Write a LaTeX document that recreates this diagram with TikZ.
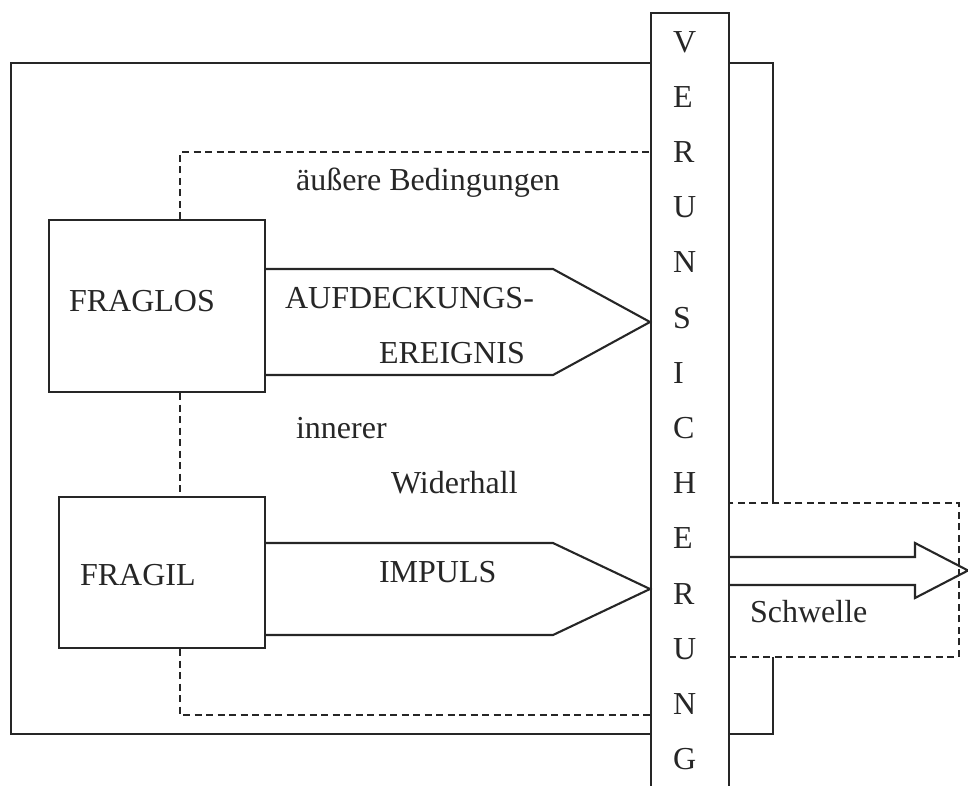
\documentclass[tikz,border=0pt]{standalone}
\usepackage{fontspec}
\setmainfont{Liberation Serif}
\begin{document}
\begin{tikzpicture}[x=1pt,y=-1pt,
  line join=miter, line width=2.1pt, color=black!85,
  panel/.style={draw, line width=2.1pt, inner sep=0pt, anchor=north west},
  hint/.style={draw, line width=1.7pt, dash pattern=on 7pt off 4.5pt},
  caption/.style={anchor=base west, inner sep=0pt, font=\fontsize{32}{38}\selectfont},
]
\useasboundingbox (0,0) rectangle (968,785);

% outer frame
\node[panel, minimum width=762pt, minimum height=671pt] (frame) at (10,62) {};

% threshold zone (covers the frame edge it crosses)
\node[panel, hint, fill=white, minimum width=230pt, minimum height=154pt] (zone) at (728,502) {};

% the two states
\node[panel, minimum width=216pt, minimum height=172pt] (fraglos) at (48,219) {};
\node[panel, minimum width=206.5pt, minimum height=151pt] (fragil) at (57.5,496) {};

% dashed links
\coordinate (spine) at (180,0);
\draw[hint] (fraglos.north -| spine) -- (spine |- 0,152) -- (650,152);
\draw[hint] (fraglos.south -| spine) -- (fragil.north -| spine);
\draw[hint] (fragil.south -| spine) -- (spine |- 0,715) -- (650,715);

% vertical bar
\node[panel, fill=white, minimum width=78pt, minimum height=790pt] (bar) at (650,11.7) {};
\foreach \ch [count=\i from 0] in {V,E,R,U,N,S,I,C,H,E,R,U,N,G}
  \node[caption] (bar-\i) at (672, 52+55.2*\i) {\ch};

% pointed arrows into the bar
\draw (fraglos.east |- 0,269) -- (553,269) -- (bar.west |- 0,322) -- (553,375) -- (fraglos.east |- 0,375);
\draw (fragil.east |- 0,543) -- (553,543) -- (bar.west |- 0,589) -- (553,635) -- (fragil.east |- 0,635);

% outgoing arrow
\draw (bar.east |- 0,557) -- (915,557) -- (915,543) -- (968,570.5) -- (915,598) -- (915,585) -- (bar.east |- 0,585);

% labels
\node[caption] (outer) at (295,190) {äußere Bedingungen};
\node[caption] (l-fraglos) at (68,311) {FRAGLOS};
\node[caption] (l-auf) at (284,308) {AUFDECKUNGS-};
\node[caption] (l-ereig) at (378,363) {EREIGNIS};
\node[caption] (l-inner) at (295,438) {innerer};
\node[caption] (l-wider) at (390,493) {Widerhall};
\node[caption] (l-fragil) at (79,585) {FRAGIL};
\node[caption] (l-impuls) at (378,582) {IMPULS};
\node[caption] (l-schw) at (749,622.7) {Schwelle};
\end{tikzpicture}
\end{document}
